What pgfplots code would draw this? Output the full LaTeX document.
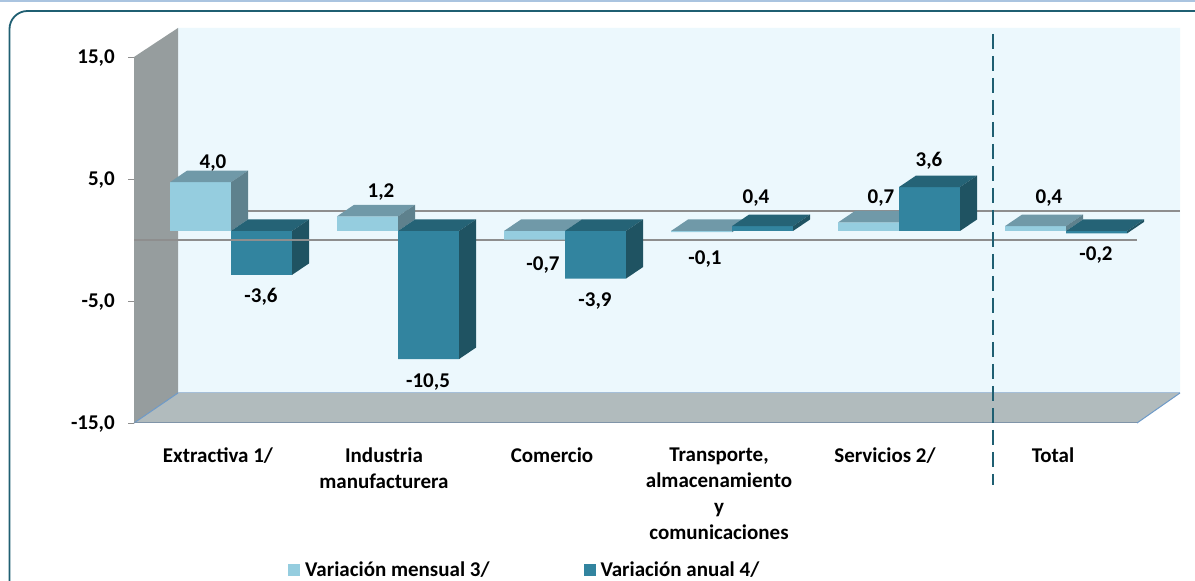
\documentclass[border=0pt]{standalone}
\usepackage{pgfplots}
\pgfplotsset{compat=1.18}
\usepackage{fontspec}
\setmainfont{Carlito}[BoldFont=Carlito Bold]
\definecolor{lf}{HTML}{95CDDF}
\definecolor{lt}{HTML}{7099A8}
\definecolor{ls}{HTML}{5E818D}
\definecolor{df}{HTML}{32849F}
\definecolor{dt}{HTML}{256376}
\definecolor{ds}{HTML}{1F5362}
\definecolor{wallc}{HTML}{969D9E}
\definecolor{floorc}{HTML}{B1BBBD}
\definecolor{backc}{HTML}{ECF8FD}
\definecolor{framec}{HTML}{1F5F72}
\definecolor{gridc}{HTML}{8E8E8E}
% x0 (pixel column), value, front, top and side colours
\newcommand\cuboid[5]{%
  \pgfmathsetmacro\bb{0.7377}%
  \pgfmathsetmacro\ytop{max(#2+\bb,\bb)}%
  \pgfmathsetmacro\ybot{min(#2+\bb,\bb)}%
  \pgfmathsetmacro\ytopb{\ytop+0.943}%
  \pgfmathsetmacro\ybotb{\ybot+0.943}%
  \pgfmathsetmacro\xa{#1}%
  \pgfmathsetmacro\xb{#1+61}%
  \pgfmathsetmacro\xc{#1+17}%
  \pgfmathsetmacro\xd{#1+78}%
  \edef\temp{%
    \noexpand\addplot[forget plot,draw=none,fill=#3] coordinates {(\xa,\ybot)(\xb,\ybot)(\xb,\ytop)(\xa,\ytop)(\xa,\ybot)};
    \noexpand\addplot[forget plot,draw=none,fill=#4] coordinates {(\xa,\ytop)(\xb,\ytop)(\xd,\ytopb)(\xc,\ytopb)(\xa,\ytop)};
    \noexpand\addplot[forget plot,draw=none,fill=#5] coordinates {(\xb,\ybot)(\xd,\ybotb)(\xd,\ytopb)(\xb,\ytop)(\xb,\ybot)};
  }\temp}
\newcommand\lab[3]{\node[font=\fontsize{21}{23}\selectfont\bfseries,yshift=-2pt] at (axis cs:#1,#2) {#3};}
\begin{document}
\begin{tikzpicture}[x=1pt,y=1pt]
\useasboundingbox (0,0) rectangle (1195,581);
\fill[white] (0,0) rectangle (1195,581);
\begin{scope}
\clip (0,0) rectangle (1195,581);
\fill[color={rgb,255:red,170;green,196;blue,224}] (0,578.5) rectangle (1195,581);
\draw[framec,line width=1.8pt,rounded corners=18pt] (1215,570) -- (9.5,570) -- (9.5,-30);
\end{scope}
\begin{axis}[
  at={(134pt,158pt)},anchor=south west,
  scale only axis,width=1046pt,height=366pt,
  xmin=134,xmax=1180,ymin=-15,ymax=15,
  clip=false,
  axis y line=left,axis x line=bottom,
  axis line style={-},
  x axis line style={draw=none},
  y axis line style={draw=gridc,line width=0.8pt},
  ytick={-15,-5,5,15},
  tick align=outside,
  ytick style={draw=gridc,line width=0.8pt},
  major tick length=6pt,
  yticklabel style={font=\fontsize{21}{23}\selectfont\bfseries,
    /pgf/number format/fixed,/pgf/number format/fixed zerofill,
    /pgf/number format/precision=1,/pgf/number format/use comma,
    /pgf/number format/assume math mode=true,inner sep=0pt,xshift=-13pt,yshift=-1.5pt},
  xtick={218,384,552,719,885,1053},
  xticklabels={Extractiva 1/,{Industria\\manufacturera},Comercio,{Transporte,\\almacenamiento\\y\\comunicaciones},Servicios 2/,Total},
  xtick style={draw=none},
  xticklabel style={font=\fontsize{21}{26}\selectfont\bfseries,align=center,anchor=north,inner sep=0pt,yshift=-19pt},
  legend columns=2,
  legend cell align=left,
  legend style={draw=none,fill=none,at={(axis cs:285,-27.05)},anchor=west,
    font=\fontsize{21}{23}\selectfont\bfseries,
    /tikz/every even column/.append style={column sep=92pt}},
  legend image code/.code={\fill[#1,draw=none] (0pt,-6pt) rectangle (12pt,6pt);},
]
% walls and floor
\addplot[forget plot,draw=none,fill=backc] coordinates {(178,-12.54)(1180,-12.54)(1180,17.38)(178,17.38)(178,-12.54)};
\addplot[forget plot,draw=none,fill=wallc] coordinates {(134,-15)(178,-12.54)(178,17.38)(134,15)(134,-15)};
\addplot[forget plot,draw=none,fill=floorc] coordinates {(134,-15)(178,-12.54)(1180,-12.54)(1137,-15)(134,-15)};
\addplot[forget plot,color={rgb,255:red,165;green,191;blue,217},line width=1pt] coordinates {(178,-12.54)(1180,-12.54)};
\addplot[forget plot,color={rgb,255:red,110;green,154;blue,200},line width=1pt] coordinates {(134,-15)(178,-12.54)};
\addplot[forget plot,color={rgb,255:red,110;green,154;blue,200},line width=1pt] coordinates {(1137,-15)(1180,-12.54)};
\addplot[forget plot,color={rgb,255:red,128;green,148;blue,168},line width=1pt] coordinates {(134,-15)(1137,-15)};
% zero plane
\addplot[forget plot,gridc,line width=1.2pt] coordinates {(178,2.38)(1180,2.38)};
% bars
\cuboid{170}{4.0}{lf}{lt}{ls}
\cuboid{231}{-3.6}{df}{dt}{ds}
\addplot[forget plot,gridc,line width=1.2pt] coordinates {(134,0)(1137,0)};
\cuboid{337}{1.2}{lf}{lt}{ls}
\cuboid{398}{-10.5}{df}{dt}{ds}
\cuboid{504}{-0.7}{lf}{lt}{ls}
\cuboid{565}{-3.9}{df}{dt}{ds}
\cuboid{671}{-0.1}{lf}{lt}{ls}
\cuboid{732}{0.4}{df}{dt}{ds}
\cuboid{838}{0.7}{lf}{lt}{ls}
\cuboid{899}{3.6}{df}{dt}{ds}
\cuboid{1005}{0.4}{lf}{lt}{ls}
\cuboid{1066}{-0.2}{df}{dt}{ds}
% divider
\addplot[forget plot,framec,line width=1.5pt,dash pattern=on 15pt off 7pt] coordinates {(993,16.9)(993,-20.1)};
% legend
\addlegendimage{fill=lf}
\addlegendentry{\hspace{3pt}Variación mensual 3/}
\addlegendimage{fill=df}
\addlegendentry{\hspace{3pt}Variación anual 4/}
% data labels (pixel column, height on the value scale)
\lab{213}{6.5}{4,0}
\lab{261}{-4.5}{-3,6}
\lab{381}{4.1}{1,2}
\lab{428}{-11.5}{-10,5}
\lab{543}{-1.9}{-0,7}
\lab{595}{-4.8}{-3,9}
\lab{705}{-1.4}{-0,1}
\lab{756}{3.6}{0,4}
\lab{881}{3.6}{0,7}
\lab{929}{6.65}{3,6}
\lab{1049}{3.6}{0,4}
\lab{1096}{-1.1}{-0,2}
\end{axis}
\end{tikzpicture}
\end{document}
